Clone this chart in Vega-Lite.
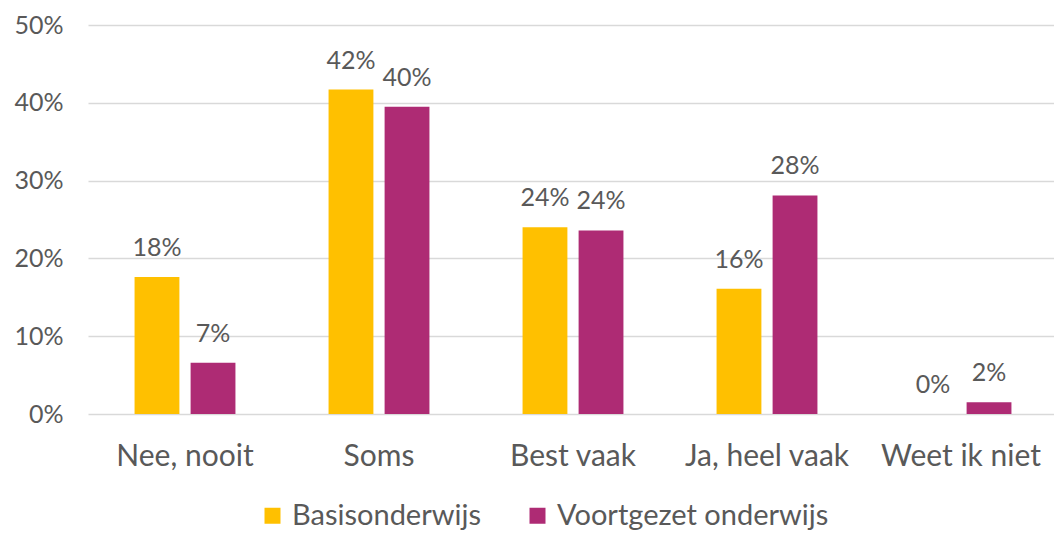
{
  "$schema": "https://vega.github.io/schema/vega-lite/v6.json",
  "autosize": {"type": "none"},
  "width": 970,
  "height": 389,
  "padding": {"left": 88, "top": 25, "right": 0, "bottom": 119},
  "background": "white",
  "config": {
    "view": {"stroke": null},
    "font": "Lato",
    "text": {"font": "Lato"}
  },
  "data": {
    "values": [
      {"cat": "Nee, nooit", "serie": "Basisonderwijs", "v": 0.176, "label": "18%"},
      {"cat": "Nee, nooit", "serie": "Voortgezet onderwijs", "v": 0.066, "label": "7%"},
      {"cat": "Soms", "serie": "Basisonderwijs", "v": 0.417, "label": "42%"},
      {"cat": "Soms", "serie": "Voortgezet onderwijs", "v": 0.395, "label": "40%"},
      {"cat": "Best vaak", "serie": "Basisonderwijs", "v": 0.24, "label": "24%"},
      {"cat": "Best vaak", "serie": "Voortgezet onderwijs", "v": 0.236, "label": "24%"},
      {"cat": "Ja, heel vaak", "serie": "Basisonderwijs", "v": 0.161, "label": "16%"},
      {"cat": "Ja, heel vaak", "serie": "Voortgezet onderwijs", "v": 0.281, "label": "28%"},
      {"cat": "Weet ik niet", "serie": "Basisonderwijs", "v": 0.0, "label": "0%"},
      {"cat": "Weet ik niet", "serie": "Voortgezet onderwijs", "v": 0.015, "label": "2%"}
    ]
  },
  "encoding": {
    "x": {
      "field": "cat", "type": "nominal", "sort": null,
      "scale": {"paddingInner": 0.48, "paddingOuter": 0.24},
      "axis": {
        "title": null, "labelAngle": 0, "domain": false, "ticks": false,
        "labelFontSize": 30, "labelColor": "#595959", "labelPadding": 27, "labelFont": "Lato", "labelLimit": 0
      }
    },
    "xOffset": {
      "field": "serie", "type": "nominal", "sort": null,
      "scale": {"paddingInner": 0.2, "paddingOuter": 0}
    },
    "y": {
      "field": "v", "type": "quantitative",
      "scale": {"domain": [0, 0.5], "nice": false},
      "axis": {
        "title": null, "format": ".0%", "values": [0, 0.1, 0.2, 0.3, 0.4, 0.5],
        "labelOverlap": false,
        "domain": false, "ticks": false, "gridColor": "#D9D9D9", "gridWidth": 1.5,
        "labelFontSize": 25, "labelColor": "#595959", "labelPadding": 25, "labelFont": "Lato"
      }
    }
  },
  "layer": [
    {
      "mark": {"type": "bar"},
      "encoding": {
        "color": {
          "field": "serie", "type": "nominal", "sort": null,
          "scale": {"domain": ["Basisonderwijs", "Voortgezet onderwijs"], "range": ["#FFC000", "#AE2B74"]},
          "legend": {
            "title": null, "orient": "none", "direction": "horizontal",
            "legendX": 170, "legendY": 476,
            "symbolType": "square", "symbolSize": 256, "symbolStrokeWidth": 0,
            "labelFontSize": 29, "labelColor": "#595959", "labelFont": "Lato", "labelLimit": 0,
            "columnPadding": 42, "labelOffset": 5
          }
        }
      }
    },
    {
      "mark": {"type": "text", "baseline": "bottom", "dy": -16, "fontSize": 25, "color": "#595959", "font": "Lato"},
      "encoding": {"text": {"field": "label"}}
    }
  ]
}
